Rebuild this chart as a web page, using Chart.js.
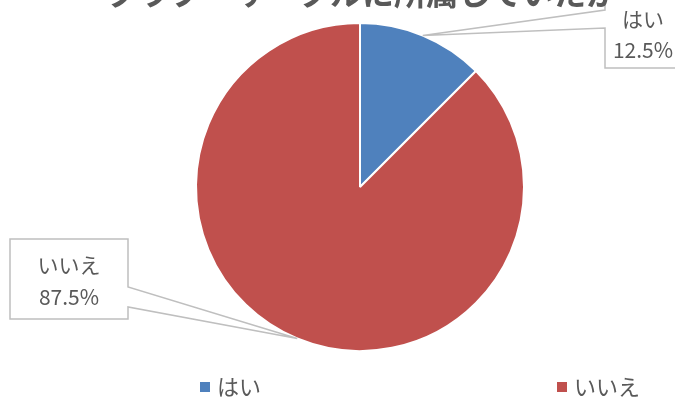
<!DOCTYPE html>
<html><head><meta charset="utf-8">
<script src="https://cdn.jsdelivr.net/npm/chart.js@4"></script>
<style>html,body{margin:0;padding:0;background:#fff;overflow:hidden;} #wrap{width:675px;height:403px;position:relative;}</style>
</head><body><div id="wrap"><canvas id="c"></canvas></div>
<script>
const chartTitle = 'クラブ・サークルに所属していたか';
const categories = ['はい', 'いいえ'];
const percentages = [12.5, 87.5];
const colors = ['#4F81BD', '#C0504D'];

const FONT = '"Noto Sans CJK JP", "Noto Sans", sans-serif';
const TEXT = '#595959';

// callout label boxes (label placement only)
const calloutBoxes = [
  {x: 605, y: -6, w: 80, h: 74, side: 'left', a1: 16, a2: 34, tx: 643, ty: [19, 50]},
  {x: 10, y: 239, w: 118, h: 80, side: 'right', a1: 48, a2: 68, tx: 69, ty: [265, 297]}
];
const legendX = [200, 557];

const titlePlugin = {
  id: 'cutTitle',
  afterDraw(chart) {
    const ctx = chart.ctx;
    ctx.save();
    ctx.font = 'bold 32px ' + FONT;
    ctx.fillStyle = TEXT;
    ctx.textAlign = 'center';
    ctx.textBaseline = 'middle';
    ctx.fillText(chartTitle, 362, -7);
    ctx.restore();
  }
};

const calloutPlugin = {
  id: 'callouts',
  afterDatasetsDraw(chart) {
    const ctx = chart.ctx;
    const meta = chart.getDatasetMeta(0);
    meta.data.forEach((arc, i) => {
      const b = calloutBoxes[i];
      const mid = (arc.startAngle + arc.endAngle) / 2;
      const ax = arc.x + Math.cos(mid) * arc.outerRadius;
      const ay = arc.y + Math.sin(mid) * arc.outerRadius;
      ctx.save();
      ctx.beginPath();
      if (b.side === 'left') {
        ctx.moveTo(b.x, b.y);
        ctx.lineTo(b.x + b.w, b.y);
        ctx.lineTo(b.x + b.w, b.y + b.h);
        ctx.lineTo(b.x, b.y + b.h);
        ctx.lineTo(b.x, b.y + b.a2);
        ctx.lineTo(ax, ay);
        ctx.lineTo(b.x, b.y + b.a1);
      } else {
        ctx.moveTo(b.x, b.y);
        ctx.lineTo(b.x + b.w, b.y);
        ctx.lineTo(b.x + b.w, b.y + b.a1);
        ctx.lineTo(ax, ay);
        ctx.lineTo(b.x + b.w, b.y + b.a2);
        ctx.lineTo(b.x + b.w, b.y + b.h);
        ctx.lineTo(b.x, b.y + b.h);
      }
      ctx.closePath();
      ctx.fillStyle = '#FFFFFF';
      ctx.fill();
      ctx.lineWidth = 1.5;
      ctx.strokeStyle = '#BFBFBF';
      ctx.stroke();
      ctx.fillStyle = TEXT;
      ctx.font = '21px ' + FONT;
      ctx.textAlign = 'center';
      ctx.textBaseline = 'middle';
      ctx.fillText(chart.data.labels[i], b.tx, b.ty[0]);
      ctx.fillText(chart.data.datasets[0].data[i] + '%', b.tx, b.ty[1]);
      ctx.restore();
    });
  }
};

const legendPlugin = {
  id: 'spreadLegend',
  afterDraw(chart) {
    const ctx = chart.ctx;
    const ds = chart.data.datasets[0];
    ctx.save();
    ctx.font = '22px ' + FONT;
    ctx.textAlign = 'left';
    ctx.textBaseline = 'middle';
    chart.data.labels.forEach((lab, i) => {
      const x = legendX[i], y = 387;
      ctx.fillStyle = ds.backgroundColor[i];
      ctx.fillRect(x, y - 5, 10, 10);
      ctx.fillStyle = TEXT;
      ctx.fillText(lab, x + 17, y);
    });
    ctx.restore();
  }
};

new Chart(document.getElementById('c'), {
  type: 'pie',
  data: {
    labels: categories,
    datasets: [{
      data: percentages,
      backgroundColor: colors,
      borderColor: '#FFFFFF',
      borderWidth: 2
    }]
  },
  options: {
    responsive: true,
    maintainAspectRatio: false,
    animation: false,
    layout: {padding: {top: 22, bottom: 51, left: 45, right: 0}},
    plugins: {
      legend: {display: false},
      title: {display: false},
      tooltip: {enabled: false}
    }
  },
  plugins: [calloutPlugin, titlePlugin, legendPlugin]
});
</script>
</body></html>
